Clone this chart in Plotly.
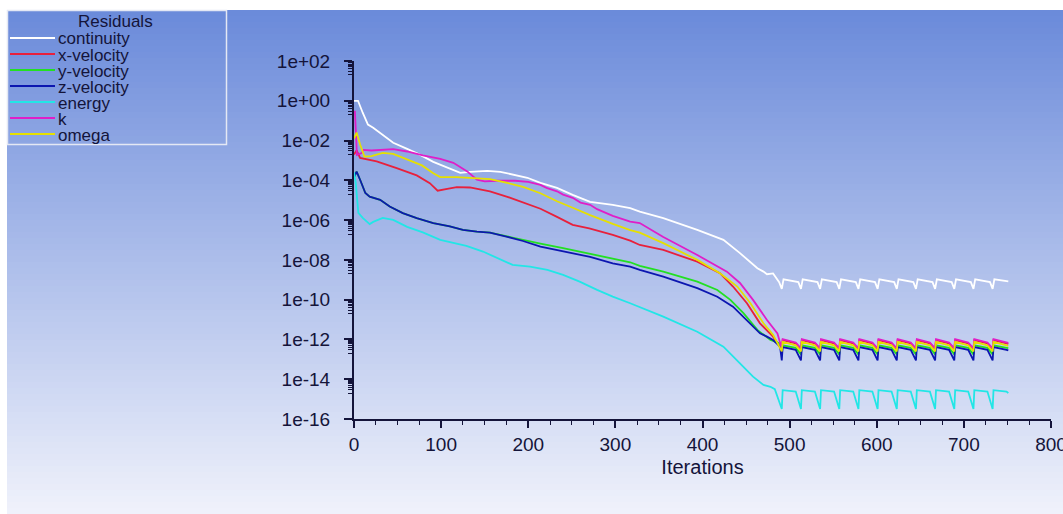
import plotly.graph_objects as go

# ---------------- data (log10 of residual) ----------------
SERIES_NAMES = ["continuity", "x-velocity", "y-velocity", "z-velocity", "energy", "k", "omega"]
SERIES_COLORS = ["#ffffff", "#e8203c", "#22e022", "#0c16b0", "#22e6e6", "#e01ec8", "#e6e000"]

continuity_it = [0, 4.6, 10, 16, 22, 33, 45, 61, 76, 91, 107, 122, 133, 153, 168, 183, 199, 214, 233, 251,
                 271, 297, 317, 328, 355, 394, 424, 443, 463, 470, 474, 481, 486]
continuity_log = [0.0, 0.0, -0.6, -1.2, -1.36, -1.71, -2.11, -2.42, -2.72, -3.07, -3.37, -3.62, -3.57, -3.52,
                  -3.57, -3.72, -3.87, -4.13, -4.38, -4.73, -5.08, -5.23, -5.40, -5.57, -5.9, -6.49, -6.99,
                  -7.66, -8.42, -8.59, -8.72, -8.68, -9.0]
continuity_tail_it = [488, 491, 493, 510, 513, 515, 532, 535, 537, 554, 557, 559, 576, 579, 581, 598, 601, 603,
                      620, 623, 625, 642, 645, 647, 664, 667, 669, 686, 689, 691, 708, 711, 713, 730, 733, 735, 751]
continuity_tail_log = [-9.12, -9.46, -8.98, -9.12, -9.46, -8.98, -9.12, -9.46, -8.98, -9.12, -9.46, -8.98,
                       -9.12, -9.46, -8.98, -9.12, -9.46, -8.98, -9.12, -9.46, -8.98, -9.12, -9.46, -8.98,
                       -9.12, -9.46, -8.98, -9.12, -9.46, -8.98, -9.12, -9.46, -8.98, -9.12, -9.46, -8.98, -9.08]

xvel_it = [0, 3, 7, 26, 49, 72, 87, 96, 107, 118, 133, 156, 176, 194, 214, 233, 251, 270, 297, 317, 328,
           355, 394, 420, 435, 451, 466, 481]
xvel_log = [-2.7, -2.5, -2.87, -3.05, -3.39, -3.75, -4.14, -4.52, -4.43, -4.34, -4.36, -4.56, -4.83, -5.13,
            -5.43, -5.84, -6.24, -6.42, -6.74, -7.03, -7.25, -7.5, -8.09, -8.67, -9.34, -10.18, -11.19, -11.86]

yvel_it = [0, 3, 7, 13, 18, 30, 41, 56, 72, 91, 110, 125, 141, 156, 176, 194, 214, 240, 259, 279, 297, 317,
           328, 355, 394, 417, 432, 447, 463, 478, 489]
yvel_log = [-3.85, -3.56, -3.97, -4.64, -4.82, -4.98, -5.32, -5.65, -5.9, -6.15, -6.32, -6.49, -6.58, -6.63,
            -6.82, -7.0, -7.18, -7.41, -7.58, -7.75, -7.91, -8.12, -8.3, -8.59, -9.09, -9.51, -10.01, -10.68,
            -11.52, -12.03, -12.2]

zvel_it = [0, 3, 7, 13, 18, 30, 41, 56, 72, 91, 110, 125, 141, 156, 176, 194, 214, 233, 251, 271, 297, 317,
           328, 355, 394, 417, 435, 451, 466, 474, 481, 489]
zvel_log = [-3.85, -3.56, -3.97, -4.64, -4.82, -4.98, -5.32, -5.65, -5.9, -6.15, -6.32, -6.49, -6.58, -6.63,
            -6.84, -7.05, -7.33, -7.5, -7.68, -7.85, -8.17, -8.34, -8.5, -8.84, -9.42, -9.85, -10.35, -11.02,
            -11.69, -11.86, -12.03, -12.36]

energy_it = [0, 2, 5, 10, 18, 22, 33, 45, 61, 79, 99, 118, 129, 148, 164, 182, 202, 222, 240, 259, 279, 297,
             317, 328, 355, 394, 424, 443, 458, 470, 478, 483]
energy_log = [-3.6, -4.13, -5.64, -5.89, -6.2, -6.09, -5.89, -5.99, -6.34, -6.62, -6.99, -7.2, -7.3, -7.58,
              -7.91, -8.25, -8.34, -8.5, -8.75, -9.09, -9.51, -9.85, -10.18, -10.38, -10.85, -11.61, -12.36,
              -13.2, -13.87, -14.29, -14.38, -14.5]

k_it = [1, 3.4, 8.8, 11, 20, 33, 45, 61, 79, 99, 114, 130, 141, 150, 165, 185, 200, 214, 221, 233, 240, 251,
        260, 271, 279, 297, 317, 328, 355, 394, 428, 443, 458, 474, 486]
k_log = [-0.5, -2.72, -2.63, -2.47, -2.5, -2.45, -2.43, -2.55, -2.75, -2.92, -3.12, -3.55, -3.97, -4.05,
         -4.02, -4.02, -4.08, -4.23, -4.38, -4.55, -4.72, -4.88, -5.12, -5.23, -5.45, -5.79, -6.08, -6.15,
         -6.85, -7.75, -8.59, -9.16, -10.01, -11.02, -11.7]

omega_it = [0, 3, 7, 12, 20, 33, 45, 60, 78, 91, 99, 118, 141, 156, 176, 194, 214, 233, 251, 271, 297, 317,
            328, 355, 394, 420, 440, 455, 470, 481]
omega_log = [-1.9, -1.6, -2.2, -2.8, -2.78, -2.62, -2.67, -2.92, -3.25, -3.64, -3.84, -3.84, -3.89, -3.94,
             -4.13, -4.33, -4.65, -5.05, -5.38, -5.75, -6.19, -6.5, -6.63, -7.16, -8.0, -8.67, -9.34, -10.18,
             -11.19, -11.77]

# periodic part after ~490 iterations (shared iteration list)
tail_it = [491, 492, 507, 513, 514, 529, 535, 536, 551, 557, 558, 573, 579, 580, 595, 601, 602, 617,
           623, 624, 639, 645, 646, 661, 667, 668, 683, 689, 690, 705, 711, 712, 727, 733, 734, 749, 751]
xvel_tail = [-12.5, -12.03, -12.2, -12.5, -12.03, -12.2, -12.5, -12.03, -12.2, -12.5, -12.03, -12.2,
             -12.5, -12.03, -12.2, -12.5, -12.03, -12.2, -12.5, -12.03, -12.2, -12.5, -12.03, -12.2,
             -12.5, -12.03, -12.2, -12.5, -12.03, -12.2, -12.5, -12.03, -12.2, -12.5, -12.03, -12.2, -12.22]
yvel_tail = [-12.75, -12.3, -12.42, -12.75, -12.3, -12.42, -12.75, -12.3, -12.42, -12.75, -12.3, -12.42,
             -12.75, -12.3, -12.42, -12.75, -12.3, -12.42, -12.75, -12.3, -12.42, -12.75, -12.3, -12.42,
             -12.75, -12.3, -12.42, -12.75, -12.3, -12.42, -12.75, -12.3, -12.42, -12.75, -12.3, -12.42, -12.44]
zvel_tail = [-13.05, -12.38, -12.52, -13.05, -12.38, -12.52, -13.05, -12.38, -12.52, -13.05, -12.38, -12.52,
             -13.05, -12.38, -12.52, -13.05, -12.38, -12.52, -13.05, -12.38, -12.52, -13.05, -12.38, -12.52,
             -13.05, -12.38, -12.52, -13.05, -12.38, -12.52, -13.05, -12.38, -12.52, -13.05, -12.38, -12.52, -12.55]
energy_tail = [-15.5, -14.55, -14.62, -15.5, -14.55, -14.62, -15.5, -14.55, -14.62, -15.5, -14.55, -14.62,
               -15.5, -14.55, -14.62, -15.5, -14.55, -14.62, -15.5, -14.55, -14.62, -15.5, -14.55, -14.62,
               -15.5, -14.55, -14.62, -15.5, -14.55, -14.62, -15.5, -14.55, -14.62, -15.5, -14.55, -14.62, -14.7]
k_tail = [-12.45, -11.98, -12.15, -12.45, -11.98, -12.15, -12.45, -11.98, -12.15, -12.45, -11.98, -12.15,
          -12.45, -11.98, -12.15, -12.45, -11.98, -12.15, -12.45, -11.98, -12.15, -12.45, -11.98, -12.15,
          -12.45, -11.98, -12.15, -12.45, -11.98, -12.15, -12.45, -11.98, -12.15, -12.45, -11.98, -12.15, -12.17]
omega_tail = [-12.6, -12.12, -12.3, -12.6, -12.12, -12.3, -12.6, -12.12, -12.3, -12.6, -12.12, -12.3,
              -12.6, -12.12, -12.3, -12.6, -12.12, -12.3, -12.6, -12.12, -12.3, -12.6, -12.12, -12.3,
              -12.6, -12.12, -12.3, -12.6, -12.12, -12.3, -12.6, -12.12, -12.3, -12.6, -12.12, -12.3, -12.32]

X_TICKS = [0, 100, 200, 300, 400, 500, 600, 700, 800]
Y_TICK_EXP = [2, 0, -2, -4, -6, -8, -10, -12, -14, -16]
Y_TICK_TEXT = ["1e+02", "1e+00", "1e-02", "1e-04", "1e-06", "1e-08", "1e-10", "1e-12", "1e-14", "1e-16"]

# ---------------- figure ----------------
W, H = 1063, 514
PL, PR, PT, PB = 354, 1051, 61, 419
INK = "#14143a"
FONT = "Liberation Sans, Arial, sans-serif"


def px(xp):
    return (xp - PL) / (PR - PL)


def py(yp):
    return (PB - yp) / (PB - PT)


all_it = [continuity_it + continuity_tail_it, xvel_it + tail_it, yvel_it + tail_it, zvel_it + tail_it,
          energy_it + tail_it, k_it + tail_it, omega_it + tail_it]
all_log = [continuity_log + continuity_tail_log, xvel_log + xvel_tail, yvel_log + yvel_tail,
           zvel_log + zvel_tail, energy_log + energy_tail, k_log + k_tail, omega_log + omega_tail]

fig = go.Figure()
for name, color, it, lg in zip(SERIES_NAMES, SERIES_COLORS, all_it, all_log):
    fig.add_trace(go.Scatter(x=it, y=[10 ** v for v in lg], mode="lines", name=name,
                             line=dict(color=color, width=1.8), showlegend=False,
                             hoverinfo="skip"))

shapes = []
# vertical gradient background
top_c = (106, 138, 218)
bot_c = (240, 242, 251)
y0, y1 = 10, 514
n = 84
for i in range(n):
    a = y0 + (y1 - y0) * i / n
    b = y0 + (y1 - y0) * (i + 1) / n
    t = (i + 0.5) / n
    c = tuple(round(top_c[j] + (bot_c[j] - top_c[j]) * t) for j in range(3))
    shapes.append(dict(type="rect", xref="paper", yref="paper", x0=px(7), x1=px(W + 2),
                       y0=py(b + 0.6), y1=py(a), fillcolor="rgb(%d,%d,%d)" % c,
                       line=dict(width=0), layer="below"))

# legend box
shapes.append(dict(type="rect", xref="paper", yref="paper", x0=px(7.5), x1=px(226.5), y0=py(144.5),
                   y1=py(10.5), line=dict(color="#e4e8f4", width=1.5), fillcolor="rgba(0,0,0,0)",
                   layer="above"))
annotations = [dict(text="Residuals", x=px(115), y=py(22), xref="paper", yref="paper", showarrow=False,
                    xanchor="center", yanchor="middle", font=dict(family=FONT, size=17, color=INK))]
leg_y = [38, 54, 70, 86, 102, 118, 134]
for name, color, ly in zip(SERIES_NAMES, SERIES_COLORS, leg_y):
    shapes.append(dict(type="line", xref="paper", yref="paper", x0=px(10), x1=px(55), y0=py(ly), y1=py(ly),
                       line=dict(color=color, width=2.2), layer="above"))
    annotations.append(dict(text=name, x=px(56), y=py(ly + 1), xref="paper", yref="paper", showarrow=False,
                            xanchor="left", yanchor="middle", font=dict(family=FONT, size=17, color=INK)))

fig.update_layout(
    width=W, height=H, autosize=False,
    margin=dict(l=PL, r=W - PR, t=PT, b=H - PB, pad=0, autoexpand=False),
    paper_bgcolor="white", plot_bgcolor="rgba(0,0,0,0)",
    shapes=shapes, annotations=annotations,
    xaxis=dict(range=[0, 800], tickmode="array", tickvals=X_TICKS, ticks="outside", ticklen=7,
               tickwidth=1.5, tickcolor=INK, showline=True, linecolor=INK, linewidth=2,
               showgrid=False, zeroline=False, tickfont=dict(family=FONT, size=19, color=INK),
               ticklabeloverflow="allow", automargin=False,
               minor=dict(dtick=25, ticks="outside", ticklen=4, tickwidth=1.2, tickcolor=INK, showgrid=False),
               title=dict(text="Iterations", font=dict(family=FONT, size=20, color=INK), standoff=6)),
    yaxis=dict(type="log", range=[-16, 2], tickmode="array", tickvals=[10 ** e for e in Y_TICK_EXP],
               ticktext=Y_TICK_TEXT, ticks="outside", ticklen=8, tickwidth=1.5, tickcolor=INK,
               showline=True, linecolor=INK, linewidth=2, showgrid=False, zeroline=False,
               automargin=False,
               tickfont=dict(family=FONT, size=19, color=INK), ticklabelstandoff=10,
               minor=dict(tickmode="array",
                          tickvals=[m * 10 ** (e - 1) for e in Y_TICK_EXP[:-1] for m in range(2, 10)],
                          ticks="outside", ticklen=4, tickwidth=1.2, tickcolor=INK, showgrid=False)),
)

fig.write_html("out.html")
